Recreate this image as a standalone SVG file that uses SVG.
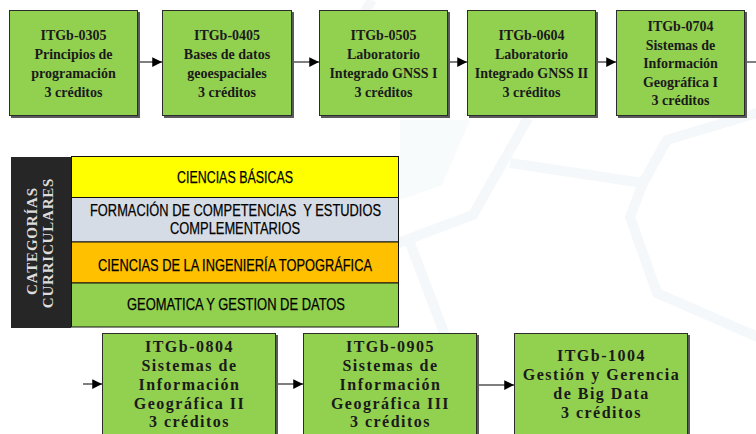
<svg xmlns="http://www.w3.org/2000/svg" width="756" height="434" viewBox="0 0 756 434">
<style>
.bg{fill:none;stroke:#f4f8fa;stroke-width:10;stroke-linejoin:miter}
.sh{fill:#5a5a5a}
.bx{fill:#92D050;stroke:#2b2b2b;stroke-width:1}
.t{font-family:"Liberation Serif","Times New Roman",serif;font-weight:bold;font-size:14px;fill:#1a1a1a;text-anchor:middle}
.tb{font-family:"Liberation Serif","Times New Roman",serif;font-weight:bold;font-size:16px;letter-spacing:1.5px;fill:#1a1a1a;text-anchor:middle}
.c{font-family:"Liberation Sans",Arial,sans-serif;font-size:17px;fill:#000;stroke:#000;stroke-width:0.25;text-anchor:middle}
.v{font-family:"Liberation Serif","Times New Roman",serif;font-weight:bold;font-size:15px;letter-spacing:0.8px;fill:#dcdcdc;text-anchor:middle}
.cn{stroke:#555;stroke-width:1.5;fill:none}
.row{stroke:#111;stroke-width:1}
</style>
<defs>
<marker id="ah" viewBox="0 0 10 10" refX="10" refY="5" markerWidth="6.5" markerHeight="6.5" orient="auto" markerUnits="strokeWidth">
<path d="M0,0 L10,5 L0,10 Z" fill="#000"/>
</marker>
</defs>
<rect width="756" height="434" fill="#fff"/>
<g id="background">
<polyline class="bg" points="510,163 643,183 667,140 760,112"/>
<polyline class="bg" points="643,183 630,217 657,293 760,338"/>
<polyline class="bg" points="528,118 473,215 398,243"/>
<polyline class="bg" points="410,243 443,330 470,434"/>
<polyline class="bg" points="372,0 345,45"/>
<polygon points="400,120 470,120 442,185 400,200" fill="#f8fbfc"/>
</g>
<g id="connectors">
<line class="cn" x1="138" y1="62" x2="162" y2="62" marker-end="url(#ah)"/>
<line class="cn" x1="292" y1="62" x2="319" y2="62" marker-end="url(#ah)"/>
<line class="cn" x1="448" y1="62" x2="467" y2="62" marker-end="url(#ah)"/>
<line class="cn" x1="596" y1="62" x2="616" y2="62" marker-end="url(#ah)"/>
<line class="cn" x1="745" y1="62" x2="756" y2="62"/>
<line class="cn" x1="83" y1="384" x2="102" y2="384" marker-end="url(#ah)"/>
<line class="cn" x1="276" y1="384" x2="303" y2="384" marker-end="url(#ah)"/>
<line class="cn" x1="477" y1="385" x2="514" y2="385" marker-end="url(#ah)"/>
</g>
<g id="n0305">
<rect class="sh" x="11" y="12" width="129" height="106"/>
<rect class="bx" x="9.5" y="10.5" width="128" height="105"/>
<text class="t" x="73.5" y="40">ITGb-0305</text>
<text class="t" x="73.5" y="59">Principios de</text>
<text class="t" x="73.5" y="78">programación</text>
<text class="t" x="73.5" y="97">3 créditos</text>
</g>
<g id="n0405">
<rect class="sh" x="164" y="12" width="130" height="106"/>
<rect class="bx" x="162.5" y="10.5" width="129" height="105"/>
<text class="t" x="227" y="40">ITGb-0405</text>
<text class="t" x="227" y="59">Bases de datos</text>
<text class="t" x="227" y="78">geoespaciales</text>
<text class="t" x="227" y="97">3 créditos</text>
</g>
<g id="n0505">
<rect class="sh" x="321" y="12" width="129" height="106"/>
<rect class="bx" x="319.5" y="10.5" width="128" height="105"/>
<text class="t" x="383.5" y="40">ITGb-0505</text>
<text class="t" x="383.5" y="59">Laboratorio</text>
<text class="t" x="383.5" y="78">Integrado GNSS I</text>
<text class="t" x="383.5" y="97">3 créditos</text>
</g>
<g id="n0604">
<rect class="sh" x="469" y="12" width="129" height="106"/>
<rect class="bx" x="467.5" y="10.5" width="128" height="105"/>
<text class="t" x="531.5" y="40">ITGb-0604</text>
<text class="t" x="531.5" y="59">Laboratorio</text>
<text class="t" x="531.5" y="78">Integrado GNSS II</text>
<text class="t" x="531.5" y="97">3 créditos</text>
</g>
<g id="n0704">
<rect class="sh" x="618" y="12" width="129" height="106"/>
<rect class="bx" x="616.5" y="10.5" width="128" height="105"/>
<text class="t" x="680.5" y="31">ITGb-0704</text>
<text class="t" x="680.5" y="49.5">Sistemas de</text>
<text class="t" x="680.5" y="68">Información</text>
<text class="t" x="680.5" y="86.5">Geográfica I</text>
<text class="t" x="680.5" y="105">3 créditos</text>
</g>
<g id="categorias">
<rect x="11" y="157" width="60" height="171" fill="#262626"/>
<text class="v" transform="translate(37,241) rotate(-90)">CATEGORÍAS</text>
<text class="v" transform="translate(53,243) rotate(-90)">CURRICULARES</text>
<rect class="row" x="71.5" y="156.5" width="327" height="41" fill="#FFFF00"/>
<rect class="row" x="71.5" y="197.5" width="327" height="44.5" fill="#D6DCE5"/>
<rect class="row" x="71.5" y="242" width="327" height="41" fill="#FFC000"/>
<rect class="row" x="71.5" y="283" width="327" height="44" fill="#92D050"/>
<text class="c" x="235" y="183" textLength="116" lengthAdjust="spacingAndGlyphs">CIENCIAS BÁSICAS</text>
<text class="c" x="235.5" y="216" textLength="291" lengthAdjust="spacingAndGlyphs" xml:space="preserve">FORMACIÓN DE COMPETENCIAS  Y ESTUDIOS</text>
<text class="c" x="235" y="234" textLength="130" lengthAdjust="spacingAndGlyphs">COMPLEMENTARIOS</text>
<text class="c" x="235" y="271" textLength="274" lengthAdjust="spacingAndGlyphs">CIENCIAS DE LA INGENIERÍA TOPOGRÁFICA</text>
<text class="c" x="236" y="310" textLength="218" lengthAdjust="spacingAndGlyphs">GEOMATICA Y GESTION DE DATOS</text>
</g>
<g id="n0804">
<rect class="sh" x="104" y="335" width="174" height="110"/>
<rect class="bx" x="102.5" y="333.5" width="173" height="110"/>
<text class="tb" x="189.5" y="352">ITGb-0804</text>
<text class="tb" x="189.5" y="371">Sistemas de</text>
<text class="tb" x="189.5" y="390">Información</text>
<text class="tb" x="189.5" y="408.5">Geográfica II</text>
<text class="tb" x="189.5" y="427">3 créditos</text>
</g>
<g id="n0905">
<rect class="sh" x="305" y="335" width="174" height="110"/>
<rect class="bx" x="303.5" y="333.5" width="173" height="110"/>
<text class="tb" x="390.5" y="352">ITGb-0905</text>
<text class="tb" x="390.5" y="371">Sistemas de</text>
<text class="tb" x="390.5" y="390">Información</text>
<text class="tb" x="390.5" y="408.5">Geográfica III</text>
<text class="tb" x="390.5" y="427">3 créditos</text>
</g>
<g id="n1004">
<rect class="sh" x="516" y="335" width="174" height="110"/>
<rect class="bx" x="514.5" y="333.5" width="173" height="110"/>
<text class="tb" x="601.5" y="361">ITGb-1004</text>
<text class="tb" x="601.5" y="380">Gestión y Gerencia</text>
<text class="tb" x="601.5" y="399">de Big Data</text>
<text class="tb" x="601.5" y="418">3 créditos</text>
</g>
</svg>
